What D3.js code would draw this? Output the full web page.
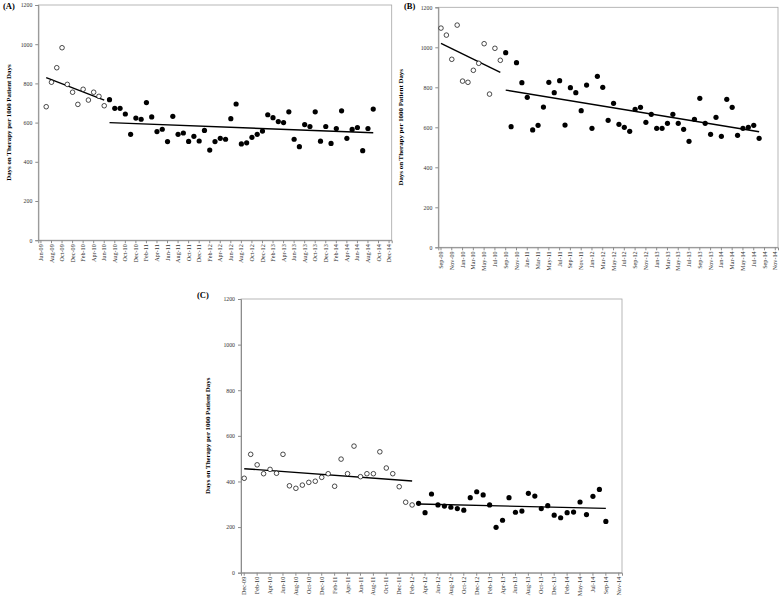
<!DOCTYPE html>
<html><head><meta charset="utf-8">
<script src="https://cdn.jsdelivr.net/npm/d3@7/dist/d3.min.js"></script>
<style>body{margin:0;background:#fff}svg{display:block}</style>
</head><body>
<svg id="chart" width="780" height="606"></svg>
<script>
// ---------- categories (months) ----------
const catsA = ("Jun-09 Jul-09 Aug-09 Sep-09 Oct-09 Nov-09 Dec-09 " +
  "Jan-10 Feb-10 Mar-10 Apr-10 May-10 Jun-10 Jul-10 Aug-10 Sep-10 Oct-10 Nov-10 Dec-10 " +
  "Jan-11 Feb-11 Mar-11 Apr-11 May-11 Jun-11 Jul-11 Aug-11 Sep-11 Oct-11 Nov-11 Dec-11 " +
  "Jan-12 Feb-12 Mar-12 Apr-12 May-12 Jun-12 Jul-12 Aug-12 Sep-12 Oct-12 Nov-12 Dec-12 " +
  "Jan-13 Feb-13 Mar-13 Apr-13 May-13 Jun-13 Jul-13 Aug-13 Sep-13 Oct-13 Nov-13 Dec-13 " +
  "Jan-14 Feb-14 Mar-14 Apr-14 May-14 Jun-14 Jul-14 Aug-14 Sep-14 Oct-14 Nov-14 Dec-14").split(" ");
const catsB = ("Sep-09 Oct-09 Nov-09 Dec-09 " +
  "Jan-10 Feb-10 Mar-10 Apr-10 May-10 Jun-10 Jul-10 Aug-10 Sep-10 Oct-10 Nov-10 Dec-10 " +
  "Jan-11 Feb-11 Mar-11 Apr-11 May-11 Jun-11 Jul-11 Aug-11 Sep-11 Oct-11 Nov-11 Dec-11 " +
  "Jan-12 Feb-12 Mar-12 Apr-12 May-12 Jun-12 Jul-12 Aug-12 Sep-12 Oct-12 Nov-12 Dec-12 " +
  "Jan-13 Feb-13 Mar-13 Apr-13 May-13 Jun-13 Jul-13 Aug-13 Sep-13 Oct-13 Nov-13 Dec-13 " +
  "Jan-14 Feb-14 Mar-14 Apr-14 May-14 Jun-14 Jul-14 Aug-14 Sep-14 Oct-14 Nov-14").split(" ");
const catsC = ("Dec-09 " +
  "Jan-10 Feb-10 Mar-10 Apr-10 May-10 Jun-10 Jul-10 Aug-10 Sep-10 Oct-10 Nov-10 Dec-10 " +
  "Jan-11 Feb-11 Mar-11 Apr-11 May-11 Jun-11 Jul-11 Aug-11 Sep-11 Oct-11 Nov-11 Dec-11 " +
  "Jan-12 Feb-12 Mar-12 Apr-12 May-12 Jun-12 Jul-12 Aug-12 Sep-12 Oct-12 Nov-12 Dec-12 " +
  "Jan-13 Feb-13 Mar-13 Apr-13 May-13 Jun-13 Jul-13 Aug-13 Sep-13 Oct-13 Nov-13 Dec-13 " +
  "Jan-14 Feb-14 Apr-14 May-14 Jun-14 Jul-14 Aug-14 Sep-14 Oct-14 Nov-14").split(" ");

// ---------- tick labels ----------
const ticksA = ["Jun-09","Aug-09","Oct-09","Dec-09","Feb-10","Apr-10","Jun-10","Aug-10","Oct-10","Dec-10",
  "Feb-11","Apr-11","Jun-11","Aug-11","Oct-11","Dec-11","Feb-12","Apr-12","Jun-12","Aug-12","Oct-12","Dec-12",
  "Feb-13","Apr-13","Jun-13","Aug-13","Oct-13","Dec-13","Feb-14","Apr-14","Jun-14","Aug-14","Oct-14","Dec-14"];
const ticksB = ["Sep-09","Nov-09","Jan-10","Mar-10","May-10","Jul-10","Sep-10","Nov-10","Jan-11","Mar-11",
  "May-11","Jul-11","Sep-11","Nov-11","Jan-12","Mar-12","May-12","Jul-12","Sep-12","Nov-12","Jan-13","Mar-13",
  "May-13","Jul-13","Sep-13","Nov-13","Jan-14","Mar-14","May-14","Jul-14","Sep-14","Nov-14"];
const ticksC = ["Dec-09","Feb-10","Apr-10","Jun-10","Aug-10","Oct-10","Dec-10","Feb-11","Apr-11","Jun-11",
  "Aug-11","Oct-11","Dec-11","Feb-12","Apr-12","Jun-12","Aug-12","Oct-12","Dec-12","Feb-13","Apr-13","Jun-13",
  "Aug-13","Oct-13","Dec-13","Feb-14","May-14","Jul-14","Sep-14","Nov-14"];
const yTicks = [0, 200, 400, 600, 800, 1000, 1200];

// ---------- series values ----------
const preA_start = "Jul-09";
const preA = [681, 806, 880, 982, 795, 755, 693, 770, 715, 755, 734, 686];
const postA_start = "Jul-10";
const postA = [717, 673, 673, 644, 540, 623, 617, 702, 629, 554, 566, 503, 632, 540, 547, 504, 530, 506,
  560, 460, 503, 520, 515, 620, 695, 491, 497, 525, 540, 557, 640, 625, 605, 600, 655, 515, 477, 590,
  580, 655, 505, 580, 494, 570, 660, 520, 565, 575, 457, 570, 669];
const trendPreA = [829, 715];
const trendPostA = [600, 548];

const preB_start = "Sep-09";
const preB = [1096, 1061, 940, 1111, 831, 825, 885, 920, 1018, 766, 995, 935];
const postB_start = "Sep-10";
const postB = [973, 603, 923, 823, 750, 587, 610, 701, 825, 773, 833, 611, 798, 773, 683, 811,
  595, 855, 800, 635, 720, 615, 600, 580, 690, 700, 625, 665, 595, 595, 620, 665, 620, 590, 530, 640,
  745, 620, 565, 650, 555, 740, 700, 560, 595, 600, 610, 545];
const trendPreB = [1020, 875];
const trendPostB = [786, 578];

const preC_start = "Dec-09";
const preC = [414, 519, 473, 434, 453, 436, 519, 381, 370, 384, 396, 401, 418, 434, 379, 498, 434, 555,
  421, 434, 434, 530, 459, 434, 377, 309, 297];
const postC_start = "Mar-12";
const postC = [304, 263, 345, 297, 292, 287, 281, 274, 329, 355, 341, 297, 199, 230, 329, 265, 270, 348,
  336, 281, 294, 252, 241, 263, 266, 310, 255, 335, 365, 225];
const trendPreC = [456, 402];
const trendPostC = [301, 282];

const yTitle = "Days on Therapy per 1000 Patient Days";

// ---------- drawing ----------
const svg = d3.select("#chart");
const SERIF = "'Liberation Serif','Times New Roman',serif";

function panel(o) {
  const x = d3.scaleBand().domain(o.cats).range([o.left, o.right]);
  const y = d3.scaleLinear().domain([0, 1200]).range([o.bottom, o.top]);
  const g = svg.append("g");

  g.append("rect").attr("x", o.left).attr("y", o.top)
    .attr("width", o.right - o.left).attr("height", o.bottom - o.top)
    .attr("fill", "none").attr("stroke", "#a6a6a6").attr("stroke-width", 0.8);

  const ya = g.append("g").attr("transform", `translate(${o.left},0)`)
    .call(d3.axisLeft(y).tickValues(yTicks).tickSize(3).tickPadding(3).tickFormat(d3.format("d")));
  ya.select(".domain").attr("stroke", "#8c8c8c");
  ya.selectAll(".tick line").attr("stroke", "#8c8c8c");
  ya.selectAll("text").attr("font-family", SERIF).attr("font-size", 5.8).attr("fill", "#333");

  const xa = g.append("g").attr("transform", `translate(0,${o.bottom})`)
    .call(d3.axisBottom(x).tickValues(o.ticks).tickSize(3).tickPadding(0));
  xa.select(".domain").attr("stroke", "#8c8c8c");
  xa.selectAll(".tick line").attr("stroke", "#8c8c8c");
  xa.selectAll("text").attr("font-family", SERIF).attr("font-size", 6.2).attr("fill", "#333")
    .attr("transform", "rotate(-90)").attr("text-anchor", "end")
    .attr("x", -4).attr("y", 0).attr("dy", "0.33em");

  const xc = c => x(c) + x.bandwidth() / 2;
  function series(start, vals) {
    const i0 = o.cats.indexOf(start);
    return vals.map((v, j) => ({ c: o.cats[i0 + j], v }));
  }
  const pre = series(o.preStart, o.pre), post = series(o.postStart, o.post);
  const line = d3.line().x(d => xc(d.c)).y(d => y(d.v));
  [[pre, o.trendPre], [post, o.trendPost]].forEach(([s, t]) => {
    g.append("path")
      .datum([{ c: s[0].c, v: t[0] }, { c: s[s.length - 1].c, v: t[1] }])
      .attr("d", line).attr("stroke", "#000").attr("stroke-width", 1.4).attr("fill", "none");
  });

  g.selectAll(".pre").data(pre).join("circle").attr("class", "pre")
    .attr("cx", d => xc(d.c)).attr("cy", d => y(d.v)).attr("r", 2.3)
    .attr("fill", "#fff").attr("stroke", "#000").attr("stroke-width", 0.7);
  g.selectAll(".post").data(post).join("circle").attr("class", "post")
    .attr("cx", d => xc(d.c)).attr("cy", d => y(d.v)).attr("r", 2.6)
    .attr("fill", "#000");

  svg.append("text").attr("x", o.labelX).attr("y", o.labelY)
    .attr("font-family", SERIF).attr("font-weight", "bold").attr("font-size", 8.5)
    .text(o.label);
  svg.append("text")
    .attr("transform", `translate(${o.titleX},${(o.top + o.bottom) / 2}) rotate(-90)`)
    .attr("text-anchor", "middle").attr("dy", "0.35em")
    .attr("font-family", SERIF).attr("font-weight", "bold").attr("font-size", 6.9)
    .text(yTitle);
}

panel({ cats: catsA, ticks: ticksA, left: 38.3, right: 391.7, top: 5, bottom: 240.2,
  preStart: preA_start, pre: preA, postStart: postA_start, post: postA,
  trendPre: trendPreA, trendPost: trendPostA, label: "(A)", labelX: 3, labelY: 9, titleX: 9 });
panel({ cats: catsB, ticks: ticksB, left: 438.3, right: 778, top: 7.3, bottom: 247.3,
  preStart: preB_start, pre: preB, postStart: postB_start, post: postB,
  trendPre: trendPreB, trendPost: trendPostB, label: "(B)", labelX: 404, labelY: 9, titleX: 401 });
panel({ cats: catsC, ticks: ticksC, left: 241, right: 622, top: 299, bottom: 572.7,
  preStart: preC_start, pre: preC, postStart: postC_start, post: postC,
  trendPre: trendPreC, trendPost: trendPostC, label: "(C)", labelX: 197, labelY: 298, titleX: 208 });
</script>
</body></html>
